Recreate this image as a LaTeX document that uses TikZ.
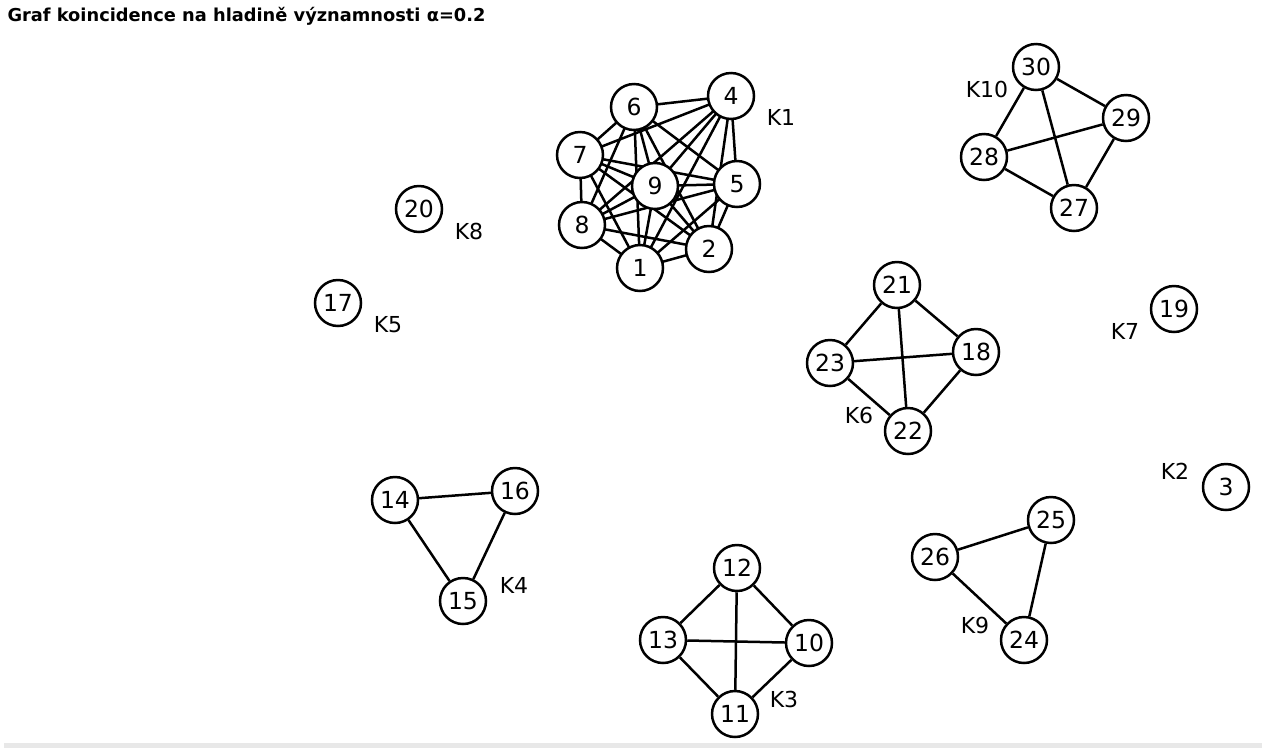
\documentclass[tikz,border=0pt]{standalone}
\usepackage{fontspec}
\setmainfont{DejaVu Sans}
\begin{document}
\begin{tikzpicture}[x=1pt, y=-1pt,
    vertex/.style={circle, draw, line width=2.5pt, fill=white, minimum size=46pt, inner sep=0pt, font=\fontsize{23.5}{24}\selectfont},
    tag/.style={font=\fontsize{22}{24}\selectfont},
    edge/.style={line width=2.5pt}]
    \useasboundingbox (0,0) rectangle (1262,748);
    \fill[black!9] (4,743) rectangle (1262,748);
    \node[anchor=base west, font=\bfseries\fontsize{17.8}{18}\selectfont] (title) at (4,21) {Graf koincidence na hladině významnosti α=0.2};
    % shluk K1
    \foreach \n/\x/\y in {1/640/268, 2/709/249, 4/731/96, 5/737/184, 6/634/107, 7/580/155, 8/582/225, 9/655/186}
        \coordinate (p\n) at (\x,\y);
    \foreach \a/\b in {1/2,1/4,1/5,1/6,1/7,1/8,1/9,2/4,2/5,2/6,2/7,2/8,2/9,4/5,4/6,4/7,4/8,4/9,5/6,5/7,5/8,5/9,6/7,6/8,6/9,7/8,7/9,8/9}
        \draw[edge] (p\a) -- (p\b);
    \foreach \n in {1,2,4,5,6,7,8,9}
        \node[vertex] (v\n) at (p\n) {\n};
    % ostatni vrcholy
    \foreach \n/\x/\y in {20/419/209, 17/338/303, 30/1036/67, 29/1126/118, 28/984/157, 27/1074/208,
                          21/897/285, 18/976/352, 23/830/363, 22/908/431, 19/1174/309, 3/1226/487,
                          14/395/500, 16/515/491, 15/463/601, 12/737/568, 13/663/640, 10/809/643,
                          11/735/714, 25/1051/520, 26/935/557, 24/1024/640}
        \node[vertex] (v\n) at (\x,\y) {\n};
    \foreach \a/\b in {30/28,30/29,30/27,28/29,28/27,29/27,
                       21/23,21/18,21/22,23/18,23/22,18/22,
                       12/13,12/10,12/11,13/10,13/11,10/11,
                       14/16,14/15,16/15,26/25,26/24,25/24}
        \draw[edge] (v\a) -- (v\b);
    % popisky shluku
    \node[tag] (k1) at (781,117) {K1};
    \node[tag] (k10) at (987,89) {K10};
    \node[tag] (k8) at (469,231) {K8};
    \node[tag] (k5) at (388,325) {K5};
    \node[tag] (k7) at (1125,331) {K7};
    \node[tag] (k6) at (859,415) {K6};
    \node[tag] (k2) at (1175,471) {K2};
    \node[tag] (k4) at (514,585) {K4};
    \node[tag] (k9) at (975,625) {K9};
    \node[tag] (k3) at (784,699) {K3};
\end{tikzpicture}
\end{document}
